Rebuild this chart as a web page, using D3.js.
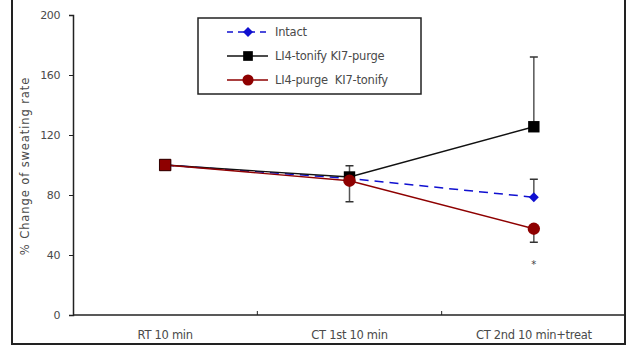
<!DOCTYPE html>
<html>
<head>
<meta charset="utf-8">
<script src="https://cdn.jsdelivr.net/npm/d3@7"></script>
<style>
  body { margin: 0; background: #fff; }
  text { font-family: "DejaVu Sans", Arial, sans-serif; white-space: pre; }
</style>
</head>
<body>
<div id="chart"></div>
<script>
// categories and series values
const categories = ["RT 10 min", "CT 1st 10 min", "CT 2nd 10 min+treat"];
const yTicks = [0, 40, 80, 120, 160, 200];

const intactVals = [100, 91, 78.5];
const intactErr = [0, 0, 12];
const tonifyVals = [100, 92, 125.5];
const tonifyErr = [0, 0, 46.5];
const purgeVals = [100, 89.5, 57.5];
const purgeErrUp = [0, 10, 0];
const purgeErrDown = [0, 14, 9];

const seriesNames = ["Intact", "LI4-tonify KI7-purge", "LI4-purge  KI7-tonify"];

const width = 626;
const height = 354;
const margin = {top: 15, left: 73, right: 0, bottom: 39};
const textColor = "#4a4a4a";

const svg = d3.select("#chart")
    .append("svg")
    .attr("width", width)
    .attr("height", height);

// outer frame
svg.append("rect")
    .attr("x", 12).attr("y", -5)
    .attr("width", 613).attr("height", 349)
    .attr("fill", "none")
    .attr("stroke", "#222")
    .attr("stroke-width", 2);

const xScale = d3.scaleBand()
    .domain(categories)
    .range([margin.left, width - margin.right]);

const yScale = d3.scaleLinear()
    .domain([0, 200])
    .range([height - margin.bottom, margin.top]);

const cx = function(i) { return xScale(categories[i]) + xScale.bandwidth() / 2; };

// y axis
const yAxis = svg.append("g")
    .attr("transform", `translate(${margin.left},0)`)
    .call(d3.axisLeft(yScale).tickValues(yTicks).tickSize(4).tickPadding(9));
yAxis.select(".domain").attr("stroke", "#222").attr("stroke-width", 1.5);
yAxis.selectAll(".tick line").attr("stroke", "#222");
yAxis.selectAll("text")
    .attr("fill", textColor)
    .style("font-family", "DejaVu Sans")
    .style("font-size", "11px")
    .style("letter-spacing", "-0.4px");

// x axis: ticks between categories, pointing up
const xAxisG = svg.append("g")
    .attr("transform", `translate(0,${yScale(0)})`);
xAxisG.append("line")
    .attr("x1", margin.left).attr("x2", width)
    .attr("stroke", "#222").attr("stroke-width", 1.5);
xAxisG.selectAll("line.tk")
    .data(categories.slice(1))
    .enter()
    .append("line")
        .attr("class", "tk")
        .attr("x1", function(d) { return xScale(d); })
        .attr("x2", function(d) { return xScale(d); })
        .attr("y1", 0).attr("y2", -4)
        .attr("stroke", "#222");
svg.selectAll("text.xlab")
    .data(categories)
    .enter()
    .append("text")
        .attr("class", "xlab")
        .attr("x", function(d, i) { return cx(i); })
        .attr("y", 339)
        .attr("text-anchor", "middle")
        .attr("fill", textColor)
        .style("font-size", "11.5px")
        .style("letter-spacing", "-0.3px")
        .text(function(d) { return d; });

// y axis title
svg.append("text")
    .attr("transform", "translate(29,166) rotate(-90)")
    .attr("text-anchor", "middle")
    .attr("fill", textColor)
    .style("font-size", "11.5px")
    .style("letter-spacing", "0.9px")
    .text("% Change of sweating rate");

const line = d3.line()
    .x(function(d, i) { return cx(i); })
    .y(function(d) { return yScale(d); });

function errorBars(vals, errs, dir) {
    vals.forEach(function(v, i) {
        if (!errs[i]) return;
        const x = cx(i);
        const yEnd = yScale(v + dir * errs[i]);
        svg.append("line")
            .attr("x1", x).attr("x2", x)
            .attr("y1", yScale(v)).attr("y2", yEnd)
            .attr("stroke", "#555").attr("stroke-width", 1.5);
        svg.append("line")
            .attr("x1", x - 4).attr("x2", x + 4)
            .attr("y1", yEnd).attr("y2", yEnd)
            .attr("stroke", "#333").attr("stroke-width", 1.5);
    });
}

const blue = "#1010d0";
const red = "#8e0000";

// error bars
errorBars(intactVals, intactErr, 1);
errorBars(tonifyVals, tonifyErr, 1);
errorBars(purgeVals, purgeErrUp, 1);
errorBars(purgeVals, purgeErrDown, -1);

// lines
svg.append("path").datum(intactVals)
    .attr("d", line).attr("fill", "none")
    .attr("stroke", blue).attr("stroke-width", 1.5)
    .attr("stroke-dasharray", "9,6");
svg.append("path").datum(tonifyVals)
    .attr("d", line).attr("fill", "none")
    .attr("stroke", "#111").attr("stroke-width", 1.3);
svg.append("path").datum(purgeVals)
    .attr("d", line).attr("fill", "none")
    .attr("stroke", red).attr("stroke-width", 1.3);

// markers (diamond = square turned 45 degrees)
const diamond = d3.symbol().type(d3.symbolSquare).size(50);
const square = d3.symbol().type(d3.symbolSquare).size(130);
const circle = d3.symbol().type(d3.symbolCircle).size(120);

svg.selectAll("path.m-int")
    .data(intactVals)
    .enter()
    .append("path")
        .attr("class", "m-int")
        .attr("d", diamond)
        .attr("transform", function(d, i) { return `translate(${cx(i)},${yScale(d)}) rotate(45)`; })
        .attr("fill", blue);

svg.selectAll("path.m-ton")
    .data(tonifyVals)
    .enter()
    .append("path")
        .attr("class", "m-ton")
        .attr("d", square)
        .attr("transform", function(d, i) { return `translate(${cx(i)},${yScale(d)})`; })
        .attr("fill", "#000");

svg.selectAll("path.m-pur")
    .data(purgeVals)
    .enter()
    .append("path")
        .attr("class", "m-pur")
        .attr("d", function(d, i) { return i === 0 ? square() : circle(); })
        .attr("transform", function(d, i) { return `translate(${cx(i)},${yScale(d)})`; })
        .attr("fill", red)
        .attr("stroke", function(d, i) { return i === 0 ? "#300" : "none"; });

// significance mark
svg.append("text")
    .attr("x", cx(2)).attr("y", 268)
    .attr("text-anchor", "middle")
    .attr("fill", "#444")
    .style("font-size", "10px")
    .text("*");

// legend
const legend = svg.append("g");
legend.append("rect")
    .attr("x", 198).attr("y", 18)
    .attr("width", 223).attr("height", 76)
    .attr("fill", "#fff")
    .attr("stroke", "#222")
    .attr("stroke-width", 1.5);

const legendStyle = [
    {color: blue, dash: "6,5", mark: diamond, tf: "rotate(45)"},
    {color: "#111", dash: null, mark: square, tf: "scale(0.85)"},
    {color: red, dash: null, mark: circle, tf: "scale(0.9)"}
];

seriesNames.forEach(function(name, i) {
    const y = 32 + i * 24;
    const st = legendStyle[i];
    legend.append("line")
        .attr("x1", 227).attr("x2", 268)
        .attr("y1", y).attr("y2", y)
        .attr("stroke", st.color).attr("stroke-width", 1.5)
        .attr("stroke-dasharray", st.dash);
    legend.append("path")
        .attr("d", st.mark)
        .attr("transform", `translate(248,${y}) ${st.tf}`)
        .attr("fill", i === 1 ? "#000" : st.color);
    legend.append("text")
        .attr("x", 275).attr("y", y + 4)
        .attr("fill", textColor)
        .style("font-size", "11.5px")
        .style("letter-spacing", "-0.2px")
        .text(name);
});
</script>
</body>
</html>
